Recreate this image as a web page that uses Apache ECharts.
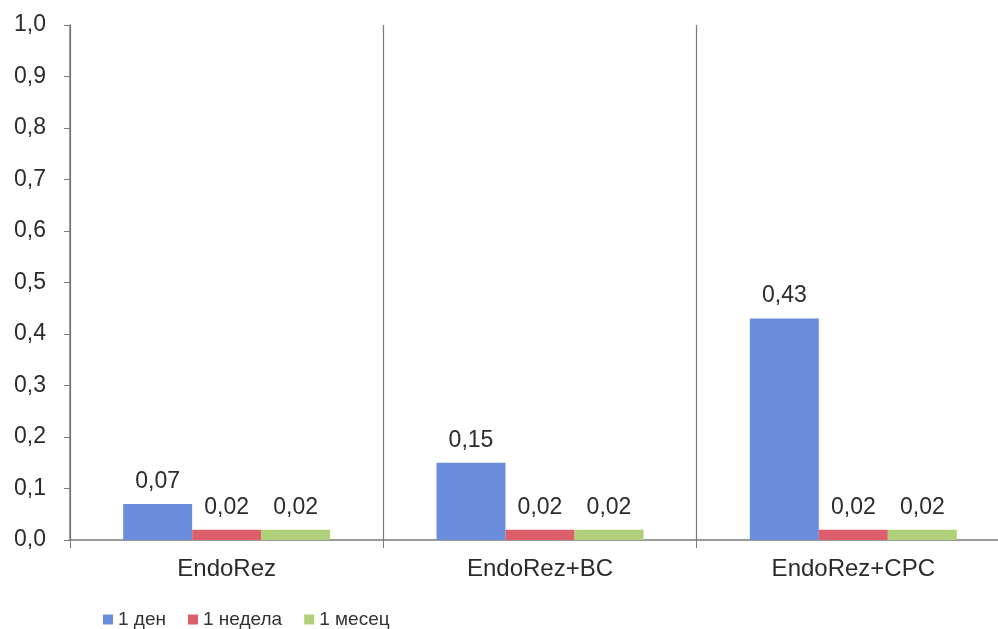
<!DOCTYPE html>
<html>
<head>
<meta charset="utf-8">
<script src="https://cdn.jsdelivr.net/npm/echarts@6/dist/echarts.min.js"></script>
<style>
html,body{margin:0;padding:0;background:#fff;overflow:hidden;width:998px;height:629px;}
#c{width:1010px;height:629px;}
</style>
</head>
<body>
<div id="c"></div>
<script>
const categories = ['EndoRez', 'EndoRez+BC', 'EndoRez+CPC'];
const seriesNames = ['1 ден', '1 недела', '1 месец'];
const day1 = [0.07, 0.15, 0.43];
const week1 = [0.02, 0.02, 0.02];
const month1 = [0.02, 0.02, 0.02];
const colors = ['#6a8edb', '#de5f6c', '#b0d07a'];

const fmt = v => v.toFixed(2).replace('.', ',');
const font = 'Liberation Sans, Arial, sans-serif';

function mk(name, data, color) {
  return {
    name: name,
    type: 'bar',
    data: data,
    barWidth: 69,
    barGap: '0%',
    itemStyle: { color: color },
    label: {
      show: true,
      position: 'top',
      distance: 11,
      formatter: p => fmt(p.value),
      fontSize: 23,
      fontFamily: font,
      color: '#2b2b2b'
    }
  };
}

const chart = echarts.init(document.getElementById('c'), null, { renderer: 'canvas' });
chart.setOption({
  animation: false,
  backgroundColor: '#ffffff',
  color: colors,
  grid: { left: 70, width: 940, top: 25, height: 515, containLabel: false, outerBoundsMode: 'none' },
  legend: {
    left: 98,
    top: 605,
    itemWidth: 10,
    itemHeight: 10,
    itemGap: 22,
    icon: 'rect',
    textStyle: { fontSize: 19, fontFamily: font, color: '#333' },
    data: seriesNames
  },
  xAxis: {
    type: 'category',
    data: categories,
    axisLine: { lineStyle: { color: '#7a7a7a', width: 1.5 } },
    axisTick: { show: true, length: 8, lineStyle: { color: '#7a7a7a' } },
    splitLine: { show: true, lineStyle: { color: '#7a7a7a', width: 1.2 } },
    axisLabel: { fontSize: 24, fontFamily: font, color: '#2b2b2b', margin: 17 }
  },
  yAxis: {
    type: 'value',
    min: 0,
    max: 1,
    interval: 0.1,
    axisLine: { show: true, lineStyle: { color: '#7a7a7a', width: 1.5 } },
    axisTick: { show: true, length: 6, lineStyle: { color: '#7a7a7a' } },
    splitLine: { show: false },
    axisLabel: {
      fontSize: 23, fontFamily: font, color: '#2b2b2b', margin: 24,
      formatter: v => v.toFixed(1).replace('.', ',')
    }
  },
  series: [
    mk(seriesNames[0], day1, colors[0]),
    mk(seriesNames[1], week1, colors[1]),
    mk(seriesNames[2], month1, colors[2])
  ]
});
</script>
</body>
</html>
